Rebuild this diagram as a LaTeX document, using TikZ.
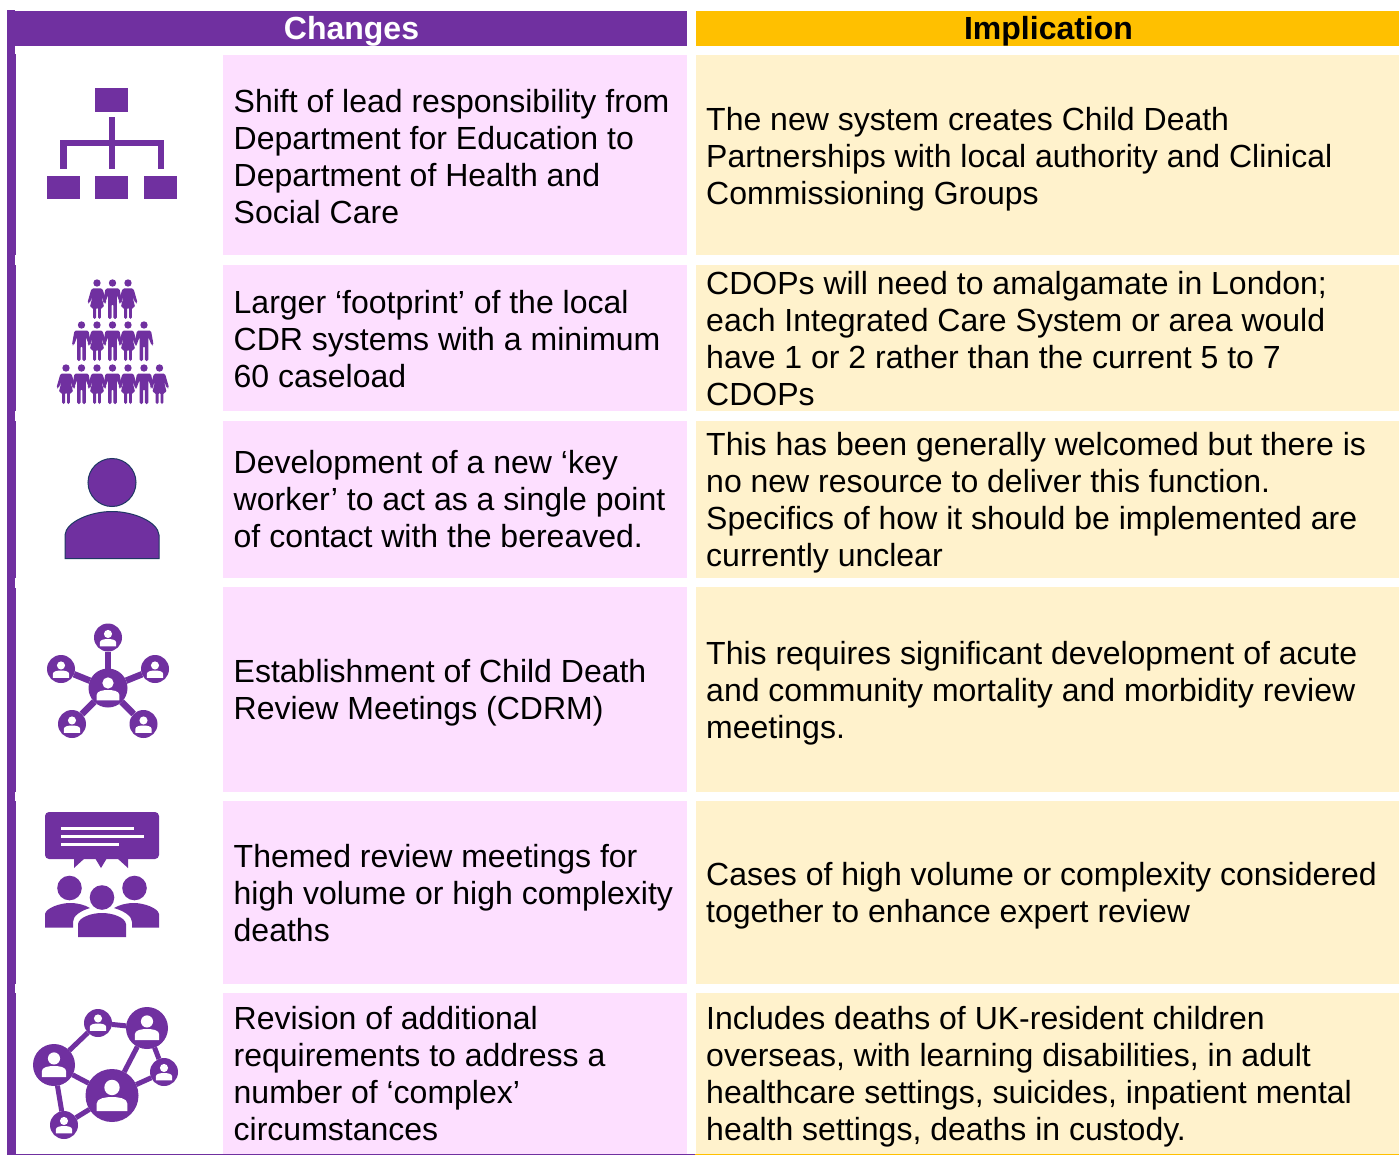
\documentclass[tikz,border=0pt]{standalone}
\usepackage{fontspec}
\setmainfont{Liberation Sans}
\definecolor{pur}{HTML}{7030A0}
\definecolor{yel}{HTML}{FFC000}
\definecolor{pnk}{HTML}{FDDFFF}
\definecolor{crm}{HTML}{FFF2CC}
\definecolor{nav}{HTML}{1F3864}
\tikzset{
 x=1pt,y=-1pt,
 ltext/.style={anchor=west,inner sep=0pt,align=left,font=\fontsize{32}{37}\selectfont,text=black},
 hd/.style={inner sep=0pt,font=\fontsize{32}{37}\selectfont\bfseries},
 hub/.style={circle,fill=pur,inner sep=0pt,outer sep=0pt,minimum size=#1},
 link/.style={draw=pur,line width=#1},
}
% white person glyph in a circle of radius #3
\newcommand{\glyph}[3]{%
 \fill[white] (#1,#2-0.36*#3) circle[radius=0.29*#3];
 \fill[white] (#1-0.58*#3,#2+0.53*#3) -- (#1-0.58*#3,#2+0.25*#3) .. controls (#1-0.58*#3,#2+0.05*#3) and (#1-0.25*#3,#2+0.0*#3) .. (#1,#2+0.0*#3) .. controls (#1+0.25*#3,#2+0.0*#3) and (#1+0.58*#3,#2+0.05*#3) .. (#1+0.58*#3,#2+0.25*#3) -- (#1+0.58*#3,#2+0.53*#3) -- cycle;}
\newcommand{\man}[2]{%
 \fill[pur] (#1,#2) circle[radius=3.7];
 \fill[pur,rounded corners=1.5] (#1-7,#2+5.5) -- (#1+7,#2+5.5) -- (#1+9.6,#2+20) -- (#1+7.6,#2+20.5) -- (#1+4.4,#2+12) -- (#1+4.4,#2+36) -- (#1+0.9,#2+36) -- (#1+0.9,#2+21) -- (#1-0.9,#2+21) -- (#1-0.9,#2+36) -- (#1-4.4,#2+36) -- (#1-4.4,#2+12) -- (#1-7.6,#2+20.5) -- (#1-9.6,#2+20) -- cycle;}
\newcommand{\woman}[2]{%
 \fill[pur] (#1,#2) circle[radius=3.7];
 \fill[pur,rounded corners=1.5] (#1-5.5,#2+5.5) -- (#1+5.5,#2+5.5) -- (#1+9.6,#2+20) -- (#1+7.6,#2+20.5) -- (#1+4.4,#2+13) -- (#1+7.2,#2+24.5) -- (#1+3.8,#2+24.5) -- (#1+3.8,#2+36) -- (#1+1,#2+36) -- (#1+1,#2+24.5) -- (#1-1,#2+24.5) -- (#1-1,#2+36) -- (#1-3.8,#2+36) -- (#1-3.8,#2+24.5) -- (#1-7.2,#2+24.5) -- (#1-4.4,#2+13) -- (#1-7.6,#2+20.5) -- (#1-9.6,#2+20) -- cycle;}
\begin{document}
\begin{tikzpicture}
\useasboundingbox (0,0) rectangle (1399,1155);
\fill[white] (0,0) rectangle (1399,1155);
% frame
\fill[pur] (7,10) rectangle (15,1155);
\fill[pur] (15,54) rectangle (16,255);
\fill[pur] (15,265) rectangle (16,411);
\fill[pur] (15,421) rectangle (16,578);
\fill[pur] (15,588) rectangle (16,792);
\fill[pur] (15,801) rectangle (16,984);
\fill[pur] (15,993) rectangle (16,1155);
% header
\fill[pur] (7,11) rectangle (687,46);
\fill[yel] (696,11) rectangle (1399,46);
\node[hd,text=white] (h1) at (351.5,31.5) {Changes};
\node[hd,text=black] (h2) at (1048.5,31.5) {Implication};
% cells
\foreach \a/\b in {55/255,265/411,421/578,587/792,801/984,993/1154}{
 \fill[pnk] (223,\a) rectangle (687,\b);
 \fill[crm] (696,\a) rectangle (1399,\b);
}
\fill[pur] (7,1154) rectangle (695,1155);
\fill[yel] (695,1154) rectangle (1399,1155);
% left texts
\node[ltext] (l1) at (233.5,157) {Shift of lead responsibility from\\Department for Education to\\Department of Health and\\Social Care};
\node[ltext] (l2) at (233.5,339) {Larger ‘footprint’ of the local\\CDR systems with a minimum\\60 caseload};
\node[ltext] (l3) at (233.5,499.5) {Development of a new ‘key\\worker’ to act as a single point\\of contact with the bereaved.};
\node[ltext] (l4) at (233.5,693) {Establishment of Child Death\\Review Meetings (CDRM)};
\node[ltext] (l5) at (233.5,893.5) {Themed review meetings for\\high volume or high complexity\\deaths};
\node[ltext] (l6) at (233.5,1073.5) {Revision of additional\\requirements to address a\\number of ‘complex’\\circumstances};
% right texts
\node[ltext] (r1) at (706,159) {The new system creates Child Death\\Partnerships with local authority and Clinical\\Commissioning Groups};
\node[ltext] (r2) at (706,338.5) {CDOPs will need to amalgamate in London;\\each Integrated Care System or area would\\have 1 or 2 rather than the current 5 to 7\\CDOPs};
\node[ltext] (r3) at (706,502.5) {This has been generally welcomed but there is\\no new resource to deliver this function.\\Specifics of how it should be implemented are\\currently unclear};
\node[ltext] (r4) at (706,693) {This requires significant development of acute\\and community mortality and morbidity review\\meetings.};
\node[ltext] (r5) at (706,895.5) {Cases of high volume or complexity considered\\together to enhance expert review};
\node[ltext] (r6) at (706,1076.5) {Includes deaths of UK-resident children\\overseas, with learning disabilities, in adult\\healthcare settings, suicides, inpatient mental\\health settings, deaths in custody.};
% icon 1: hierarchy
\fill[pur] (95,88) rectangle (128,112);
\fill[pur] (108.5,117) rectangle (115,169);
\fill[pur] (60,140) rectangle (164,146.5);
\fill[pur] (60,140) rectangle (66.5,169);
\fill[pur] (157.5,140) rectangle (164,169);
\fill[pur] (47,176) rectangle (80,199);
\fill[pur] (95,176) rectangle (128,199);
\fill[pur] (144,176) rectangle (177,199);
% icon 2: crowd
\woman{97}{283}\man{112.5}{283}\woman{128}{283}
\man{81.5}{325}\woman{97}{325}\man{112.5}{325}\woman{128}{325}\man{144}{325}
\woman{66}{368}\man{81.5}{368}\woman{97}{368}\man{112.5}{368}\woman{128}{368}\man{144}{368}\woman{159.5}{368}
% icon 3: person
\filldraw[fill=pur,draw=nav,line width=1pt] (112,482.5) circle[radius=24];
\filldraw[fill=pur,draw=nav,line width=1pt] (65,558.5) -- (65,535) .. controls (66,522) and (90,511.5) .. (112,511.5) .. controls (134,511.5) and (158,522) .. (159,535) -- (159,558.5) -- cycle;
% icon 4: star network
\node[hub=39pt] (c0) at (108,688) {};
\node[hub=28pt] (c1) at (108,637.5) {};
\node[hub=28pt] (c2) at (61,669) {};
\node[hub=28pt] (c3) at (155,669) {};
\node[hub=28pt] (c4) at (72,724) {};
\node[hub=28pt] (c5) at (143.5,724) {};
\foreach \n in {c1,c2,c3,c4,c5} \draw[link=6.5pt] (c0) -- (\n);
\glyph{108}{690}{19.5}
\glyph{108}{639}{14}\glyph{61}{670.5}{14}\glyph{155}{670.5}{14}\glyph{72}{725.5}{14}\glyph{143.5}{725.5}{14}
% icon 5: discussion
\fill[pur,rounded corners=4] (45,812) rectangle (159,859);
\fill[pur] (74,858) -- (85,858) -- (74,868) -- cycle;
\fill[pur] (95,858) -- (107,858) -- (101,868) -- cycle;
\fill[pur] (117,858) -- (128,858) -- (128,868) -- cycle;
\fill[white] (61,827) rectangle (134,830);
\fill[white] (61,835) rectangle (144,838);
\fill[white] (61,843) rectangle (119,846);
\fill[pur] (69.5,888) circle[radius=12.3];
\fill[pur] (134.5,888) circle[radius=12.3];
\fill[pur] (102,897.5) circle[radius=12.3];
\fill[pur] (45,927.5) -- (45,914) .. controls (46,908) and (60,903) .. (70,903) .. controls (78,903) and (85,905) .. (90,908) .. controls (80,911) and (73,916) .. (73,922) -- (73,927.5) -- cycle;
\fill[pur] (159,927.5) -- (159,914) .. controls (158,908) and (144,903) .. (134,903) .. controls (126,903) and (119,905) .. (114,908) .. controls (124,911) and (132,916) .. (132,922) -- (132,927.5) -- cycle;
\fill[pur] (78,937) -- (78,924) .. controls (79,917) and (92,913) .. (102,913) .. controls (112,913) and (125,917) .. (126,924) -- (126,937) -- cycle;
% icon 6: network
\node[hub=28pt] (n1) at (98,1023) {};
\node[hub=42pt] (n2) at (147,1028) {};
\node[hub=42pt] (n3) at (54,1065) {};
\node[hub=53pt] (n4) at (112,1095.5) {};
\node[hub=28pt] (n5) at (164,1072) {};
\node[hub=28pt] (n6) at (64,1125) {};
\foreach \p/\q in {n1/n2,n1/n3,n3/n4,n2/n4,n2/n5,n4/n5,n3/n6,n4/n6} \draw[link=5pt] (\p) -- (\q);
\glyph{98}{1023.5}{14}\glyph{147}{1029}{21}\glyph{54}{1066}{21}\glyph{112}{1097}{26.5}\glyph{164}{1073}{14}\glyph{64}{1126}{14}
\end{tikzpicture}
\end{document}
